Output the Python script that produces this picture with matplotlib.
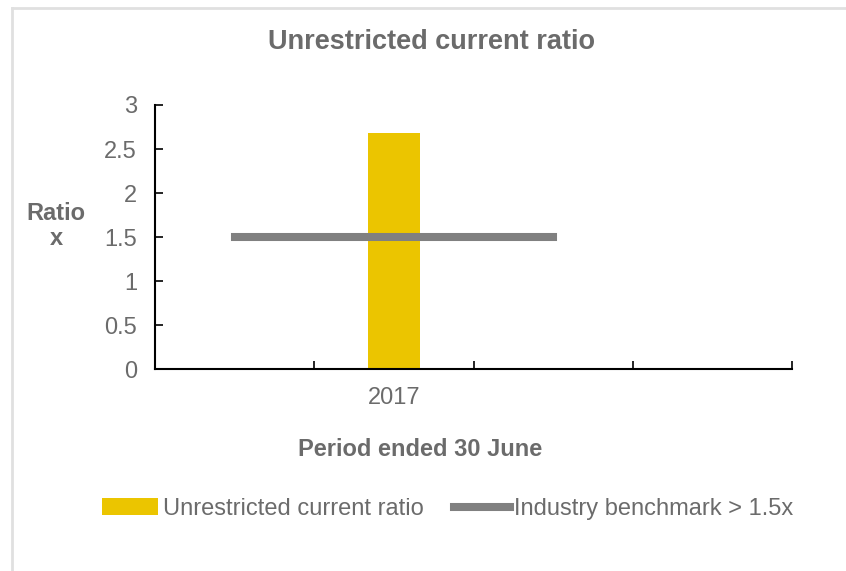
import numpy as np
import matplotlib
matplotlib.use('Agg')
import matplotlib.pyplot as plt
from matplotlib.lines import Line2D

plt.rcParams['font.family'] = ['Liberation Sans', 'DejaVu Sans']

# data
categories = ['', '2017', '', '']
ratio_values = [np.nan, 2.68, np.nan, np.nan]
benchmark_values = [1.5, 1.5, 1.5, np.nan]

txt_col = '#6b6b6b'
bar_col = '#ebc500'
line_col = '#808080'

fig = plt.figure(figsize=(8.46, 5.71), dpi=100)
ax = fig.add_axes([155/846, 1-369/571, (792-155)/846, (369-105)/571])

x = np.arange(len(categories))
bars = ax.bar(x, ratio_values, width=0.33, color=bar_col, label='Unrestricted current ratio', zorder=2)
line, = ax.plot(x, benchmark_values, color=line_col, lw=5.8, solid_capstyle='projecting',
                label='Industry benchmark > 1.5x', zorder=3)

ax.set_xlim(-0.5, len(categories) - 0.5)
ax.set_ylim(0, 3)
ax.set_yticks(np.arange(0, 3.01, 0.5))
ax.set_yticklabels(['0', '0.5', '1', '1.5', '2', '2.5', '3'])
ax.set_xticks(np.arange(-0.5, len(categories), 1.0))
ax.set_xticklabels([])
ax.set_xticks(x, minor=True)
ax.set_xticklabels(categories, minor=True)
ax.tick_params(axis='x', which='major', direction='in', length=6, width=1.2, color='black')
ax.tick_params(axis='x', which='minor', length=0, pad=13, labelsize=17, labelcolor=txt_col)
ax.tick_params(axis='y', direction='in', length=6, width=1.2, pad=13, labelsize=17, labelcolor=txt_col)

for s in ['top', 'right']:
    ax.spines[s].set_visible(False)
for s in ['left', 'bottom']:
    ax.spines[s].set_linewidth(1.5)

fig.text(432/846, 1-42/571, 'Unrestricted current ratio', ha='center', va='center',
         fontsize=19.5, color=txt_col, fontweight='bold')
fig.text(56/846, 1-226/571, 'Ratio\nx', ha='center', va='center', fontsize=17,
         color=txt_col, fontweight='bold', linespacing=1.15)
fig.text(420/846, 1-449/571, 'Period ended 30 June', ha='center', va='center',
         fontsize=17, color=txt_col, fontweight='bold')

fig.legend(handles=[bars, line], loc='center', bbox_to_anchor=(448/846, 1-509/571), ncol=2,
           frameon=False, fontsize=17, labelcolor=txt_col, handlelength=2.35,
           handletextpad=0.2, columnspacing=1.3)

# light frame lines on top and left
fig.add_artist(Line2D([12/846, 1], [1-8/571, 1-8/571], color='#e0e0e0', lw=2))
fig.add_artist(Line2D([12/846, 12/846], [0, 1-8/571], color='#e0e0e0', lw=2))

fig.savefig('out.png', dpi=100)
